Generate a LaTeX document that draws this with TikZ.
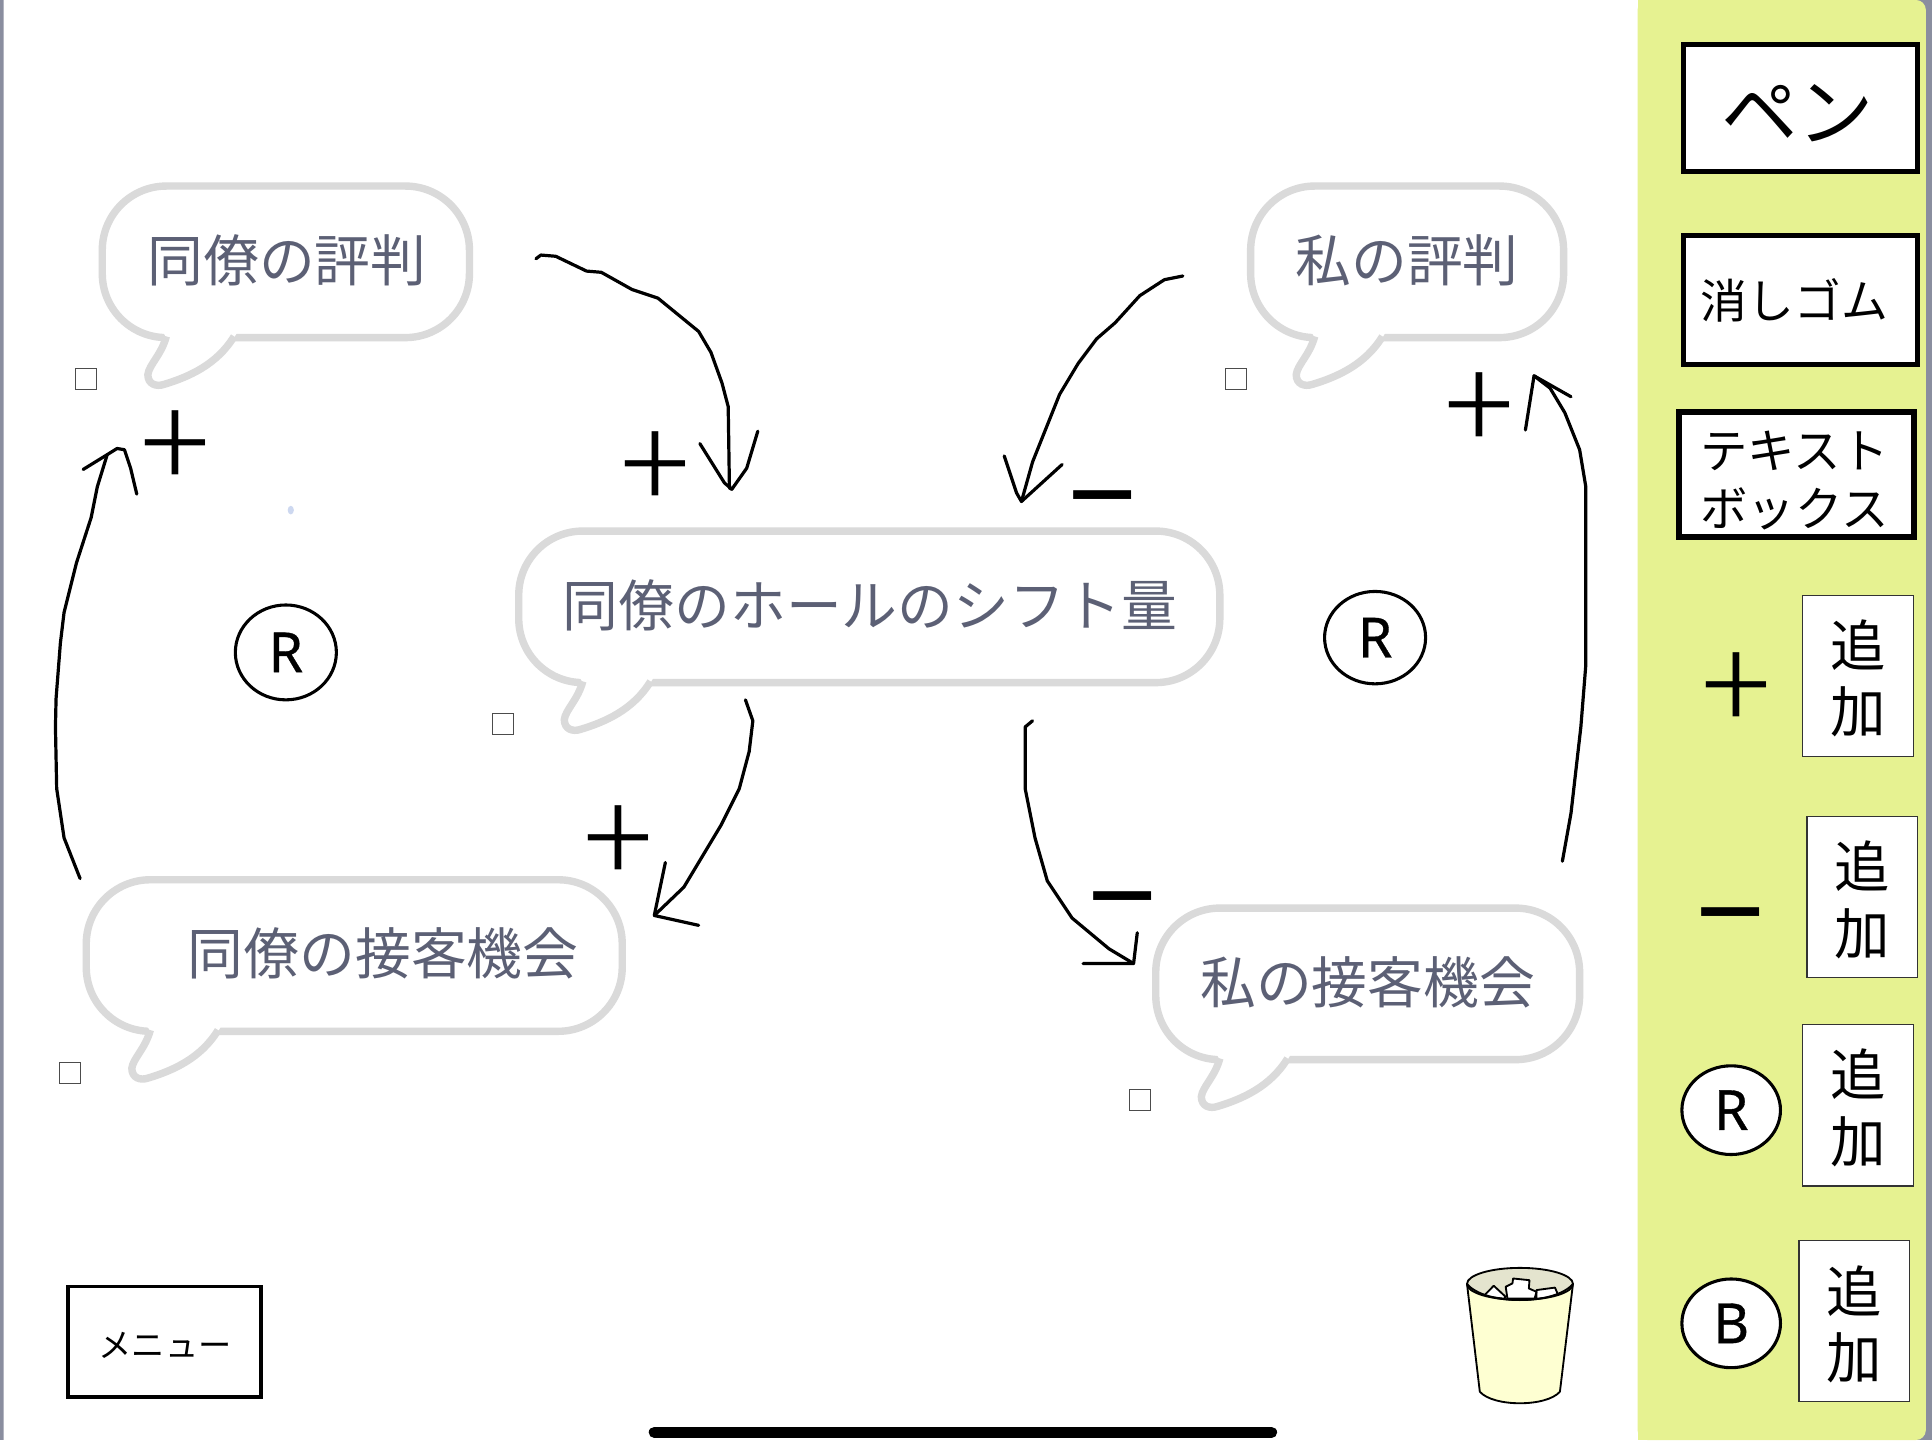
\documentclass[tikz,border=0pt]{standalone}
\usepackage{fontspec}
\setmainfont{Noto Sans CJK JP}
\newfontfamily\latinfont{Noto Sans}
\newfontfamily\loopfont[FakeBold=0.6]{Noto Sans}
\newfontfamily\plusfont{Noto Sans CJK JP Light}
\usetikzlibrary{shapes.geometric}
\definecolor{panelgreen}{HTML}{E6F291}
\definecolor{framegray}{HTML}{8A8E9F}
\definecolor{bubblegray}{HTML}{DADADA}
\definecolor{bubbletext}{HTML}{5C6075}
\definecolor{binyellow}{HTML}{FEFFD2}
\definecolor{binrim}{HTML}{E4E4CE}
\definecolor{dotblue}{HTML}{CDD8F0}
\tikzset{
  bubblebox/.style={draw=bubblegray,line width=6,fill=white,rounded corners=52,outer sep=0,inner sep=0},
  bubblelabel/.style={text=bubbletext,font=\fontsize{45.3}{45.3}\selectfont,inner sep=0},
  handle/.style={draw=black!70,line width=.8,fill=white,minimum size=17,inner sep=0},
  penline/.style={line width=2.6,line join=round,line cap=round},
  plusmark/.style={font=\plusfont\fontsize{106}{106}\selectfont,inner sep=0},
  minusmark/.style={font=\latinfont\bfseries\fontsize{100}{100}\selectfont,inner sep=0},
  loopmark/.style={draw,ellipse,line width=2.5,fill=white,font=\loopfont\fontsize{45}{45}\selectfont,inner sep=0},
  toolbox/.style={draw,fill=white,outer sep=0,inner sep=0},
  toollabel/.style={inner sep=0,align=center},
  addbox/.style={draw=black!80,line width=1,fill=white,minimum width=90,minimum height=131,inner sep=0},
  addlabel/.style={inner sep=0,align=center,font=\fontsize{45}{54}\selectfont},
  bubbletail/.pic={
    \fill[white] (49,-5) -- (110,-5) -- (107,0) .. controls (93,22) and (70,32) .. (50,38)
      .. controls (44,40) and (37,38) .. (37,30) .. controls (38,22) and (48,14) .. (52,0) -- cycle;
    \draw[bubblegray,line width=6] (52,-1) .. controls (48,14) and (38,22) .. (37,30)
      .. controls (37,38) and (44,40) .. (50,38) .. controls (70,32) and (93,22) .. (107,-1);
  }
}
\begin{document}
\begin{tikzpicture}[x=1pt,y=-1pt]
  \useasboundingbox (0,0) rectangle (1568,1168.7);
  % frame and side panel
  \fill[framegray] (0,0) rectangle (1568,1168.7);
  \fill[white,rounded corners=8] (3,-10) rectangle (1400,1180);
  \fill[panelgreen,rounded corners=8] (1329,0) rectangle (1563,1168.7);
  \fill[panelgreen] (1329,0) rectangle (1450,1168.7);
  % speech bubbles
  \node[bubblebox,minimum width=298,minimum height=123] (colleaguerep) at (232,212.5) {};
  \pic at (colleaguerep.south west) {bubbletail};
  \node[bubblelabel] (colleaguereptext) at (233,211) {同僚の評判};
  \node[bubblebox,minimum width=254,minimum height=123] (myrep) at (1142,212.5) {};
  \pic at (myrep.south west) {bubbletail};
  \node[bubblelabel] (myreptext) at (1142,211) {私の評判};
  \node[bubblebox,minimum width=569,minimum height=123] (shift) at (705.5,492.5) {};
  \pic at (shift.south west) {bubbletail};
  \node[bubblelabel] (shifttext) at (706,491) {同僚のホールのシフト量};
  \node[bubblebox,minimum width=435,minimum height=123] (colleaguechance) at (287.5,775.5) {};
  \pic at (colleaguechance.south west) {bubbletail};
  \node[bubblelabel] (colleaguechancetext) at (311,774) {同僚の接客機会};
  \node[bubblebox,minimum width=344,minimum height=123] (mychance) at (1110,798.5) {};
  \pic at (mychance.south west) {bubbletail};
  \node[bubblelabel] (mychancetext) at (1110,797) {私の接客機会};
  % handles
  \node[handle] (handlea) at (70,307.5) {};
  \node[handle] (handleb) at (1003,307.5) {};
  \node[handle] (handlec) at (408,587.5) {};
  \node[handle] (handled) at (57,870.5) {};
  \node[handle] (handlee) at (925,892.5) {};
  \fill[dotblue] (236,414) ellipse (2.5 and 3.5);
  % stroke ends
  \coordinate (atail) at (435,210);
  \coordinate (ahead) at (594,397);
  \coordinate (btail) at (65,713);
  \coordinate (bhead) at (95,364);
  \coordinate (ctail) at (960,224);
  \coordinate (chead) at (829,407);
  \coordinate (dtail) at (1268,699);
  \coordinate (dhead) at (1245,305);
  \coordinate (etail) at (605,568);
  \coordinate (ehead) at (531,743);
  \coordinate (ftail) at (838,585);
  \coordinate (fhead) at (920,782);
  % hand drawn arrows
  \draw[penline] (atail) -- (439,207) -- (451,208) -- (476,220) -- (488,221) -- (513,235) -- (534,242)
    -- (567,269) -- (577,286) -- (586,311) -- (591,330) -- (592,396) -- (ahead);
  \draw[penline] (568,360) -- (588,392) -- (ahead) -- (606,380) -- (615,350);
  \draw[penline] (btail) -- (52,680) -- (46,640) -- (45,590) -- (45.5,567) -- (49,522) -- (52,497) -- (62,457)
    -- (74,420) -- (79,395) -- (87,369);
  \draw[penline] (67.5,381) -- (87,369) -- (bhead) -- (101,365) -- (106,380) -- (111,401);
  \draw[penline] (ctail) -- (945,227) -- (925,240) -- (905,262) -- (890,275) -- (875,295) -- (860,320)
    -- (850,345) -- (838,375) -- (chead);
  \draw[penline] (815,370) -- (825,400) -- (chead) -- (862,377);
  \draw[penline] (dtail) -- (1275,660) -- (1283,590) -- (1287,540) -- (1287,395) -- (1282,365) -- (1270,335)
    -- (1258,315) -- (dhead);
  \draw[penline] (1238,349) -- (dhead) -- (1275,322);
  \draw[penline] (etail) -- (611,585) -- (608,610) -- (600,640) -- (585,670) -- (570,695) -- (555,720) -- (ehead);
  \draw[penline] (540,700) -- (ehead) -- (567,751);
  \draw[penline] (ftail) -- (832,590) -- (832,640) -- (840,680) -- (850,715) -- (870,745) -- (900,770) -- (fhead);
  \draw[penline] (879,782) -- (fhead) -- (923,757);
  % signs
  \node[plusmark] (plusa) at (142,366) {+};
  \node[plusmark] (plusb) at (532,383) {+};
  \node[plusmark] (plusc) at (502,686) {+};
  \node[plusmark] (plusd) at (1201,335) {+};
  \node[minusmark] (minusa) at (895,418) {−};
  \node[minusmark] (minusb) at (911,743) {−};
  \node[loopmark,minimum width=82,minimum height=77] (loopa) at (232,529.5) {R};
  \node[loopmark,minimum width=82,minimum height=75] (loopb) at (1116,517.5) {R};
  % menu and bin
  \node[toolbox,line width=3,minimum width=157,minimum height=90] (menu) at (133.5,1089) {};
  \node[toollabel,font=\fontsize{27}{27}\selectfont] (menutext) at (134,1092) {メニュー};
  \fill[binrim] (1233.6,1042) ellipse (43 and 13);
  \draw[line width=1.5,fill=white,line join=round] (1204,1052) -- (1212.3,1043.5) -- (1222,1052.5) -- (1220.6,1054) -- cycle;
  \draw[line width=1.5,fill=white,line join=round] (1247,1047) -- (1262,1045) -- (1265,1052) -- (1247,1054.3) -- cycle;
  \draw[line width=1.5,fill=white,line join=round] (1222,1044.3) -- (1227.5,1041.6) -- (1228,1037.6) -- (1241.3,1039)
    -- (1240.8,1045.7) -- (1247,1048.4) -- (1245.5,1053.8) -- (1223.4,1053.8) -- cycle;
  \draw[line width=1.5,fill=binyellow,line join=round] (1190.6,1042) .. controls (1205,1059.5) and (1262,1059.5) .. (1276.6,1042)
    -- (1266,1129.5) .. controls (1255,1142) and (1212,1142) .. (1201,1129.5) -- cycle;
  \draw[line width=1.5] (1233.6,1042) ellipse (43 and 13);
  % side panel tools
  \node[toolbox,line width=4,minimum width=190,minimum height=103] (pen) at (1461,87.5) {};
  \node[toollabel,font=\fontsize{62}{62}\selectfont] (pentext) at (1459,92) {ペン};
  \node[toolbox,line width=4,minimum width=190,minimum height=105] (eraser) at (1461,243.5) {};
  \node[toollabel,font=\fontsize{38}{38}\selectfont] (erasertext) at (1456.5,244) {消しゴム};
  \node[toolbox,line width=5,minimum width=191,minimum height=101] (textbox) at (1458,385) {};
  \node[toollabel,font=\fontsize{38.5}{47}\selectfont] (textboxtext) at (1456.5,390) {テキスト\\ボックス};
  \node[plusmark] (addplusmark) at (1409,562) {+};
  \node[addbox] (addplus) at (1508,548.5) {};
  \node[addlabel] (addplustext) at (1508,550.5) {追\\加};
  \node[minusmark] (addminusmark) at (1405,756) {−};
  \node[addbox] (addminus) at (1511.5,728) {};
  \node[addlabel] (addminustext) at (1511,730.5) {追\\加};
  \node[loopmark,minimum width=80,minimum height=72] (addrmark) at (1405,901) {R};
  \node[addbox] (addr) at (1508,897) {};
  \node[addlabel] (addrtext) at (1508,899) {追\\加};
  \node[loopmark,minimum width=80,minimum height=72] (addbmark) at (1405,1074) {B};
  \node[addbox] (addb) at (1505,1072) {};
  \node[addlabel] (addbtext) at (1505,1075) {追\\加};
  % home bar
  \draw[line width=9,line cap=round] (531,1162.5) -- (1032,1162.5);
\end{tikzpicture}
\end{document}
